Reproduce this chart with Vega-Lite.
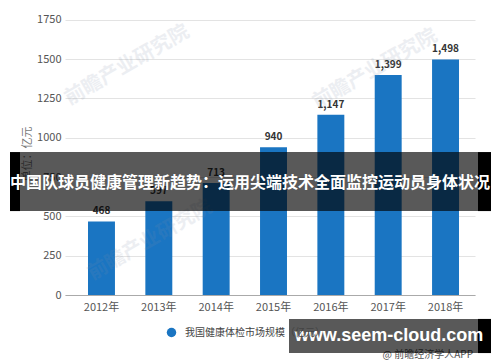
{
  "$schema": "https://vega.github.io/schema/vega-lite/v6.json",
  "width": 410,
  "height": 283,
  "autosize": {"type": "none"},
  "padding": {"left": 65, "top": 12, "right": 25, "bottom": 67},
  "background": "white",
  "config": {"view": {"stroke": null}, "font": "Noto Sans CJK SC"},
  "layer": [
    {
      "data": {"values": [
        {"year": "2012年", "value": 468, "series": "我国健康体检市场规模（亿元）"},
        {"year": "2013年", "value": 597, "series": "我国健康体检市场规模（亿元）"},
        {"year": "2014年", "value": 713, "series": "我国健康体检市场规模（亿元）"},
        {"year": "2015年", "value": 940, "series": "我国健康体检市场规模（亿元）"},
        {"year": "2016年", "value": 1147, "series": "我国健康体检市场规模（亿元）"},
        {"year": "2017年", "value": 1399, "series": "我国健康体检市场规模（亿元）"},
        {"year": "2018年", "value": 1498, "series": "我国健康体检市场规模（亿元）"}
      ]},
      "layer": [
        {
          "mark": {"type": "bar"},
          "encoding": {
            "x": {"field": "year", "type": "nominal", "sort": null,
              "scale": {"paddingInner": 0.53, "paddingOuter": 0.34, "align": 0.59},
              "axis": {"title": null, "labelAngle": 0, "labelFontSize": 11, "labelColor": "#555", "ticks": false, "domainColor": "#aaa", "labelPadding": 6}},
            "y": {"field": "value", "type": "quantitative", "scale": {"domain": [0, 1750]},
              "axis": {"values": [0, 250, 500, 750, 1000, 1250, 1500, 1750], "format": "d", "title": "单位：亿元", "titleFontSize": 11, "titleFontWeight": "normal", "titleColor": "#777", "labelFontSize": 11, "labelColor": "#555", "domain": false, "ticks": false, "gridColor": "#e3e3e3", "labelPadding": 4, "titlePadding": 4}},
            "color": {"field": "series", "type": "nominal", "scale": {"range": ["#1a75c2"]},
              "legend": {"title": null, "orient": "none", "legendX": 101, "legendY": 315, "symbolType": "circle", "symbolSize": 90, "labelFontSize": 10, "labelColor": "#444", "labelOffset": 8}}
          }
        },
        {
          "mark": {"type": "text", "dy": -10, "fontSize": 10, "fontWeight": "bold", "color": "#333"},
          "encoding": {
            "x": {"field": "year", "type": "nominal", "sort": null},
            "y": {"field": "value", "type": "quantitative"},
            "text": {"field": "value", "type": "quantitative", "format": ","}
          }
        }
      ]
    },
    {
      "data": {"values": [{}]},
      "mark": {"type": "text", "text": "前瞻产业研究院", "fontSize": 20, "fontWeight": "bold", "angle": -30, "fill": "#8090a8", "opacity": 0.14},
      "encoding": {
        "x": {"datum": 62, "type": "quantitative", "scale": {"domain": [0, 410]}, "axis": null},
        "y": {"datum": 1422, "type": "quantitative", "scale": {"domain": [0, 1750]}, "axis": null}
      }
    },
    {
      "data": {"values": [{}]},
      "mark": {"type": "text", "text": "前瞻产业研究院", "fontSize": 20, "fontWeight": "bold", "angle": -30, "fill": "#8090a8", "opacity": 0.14},
      "encoding": {
        "x": {"datum": 310, "type": "quantitative", "scale": {"domain": [0, 410]}, "axis": null},
        "y": {"datum": 1397, "type": "quantitative", "scale": {"domain": [0, 1750]}, "axis": null}
      }
    },
    {
      "data": {"values": [{}]},
      "mark": {"type": "text", "text": "前瞻产业研究院", "fontSize": 20, "fontWeight": "bold", "angle": -30, "fill": "#8090a8", "opacity": 0.14},
      "encoding": {
        "x": {"datum": 85, "type": "quantitative", "scale": {"domain": [0, 410]}, "axis": null},
        "y": {"datum": 340, "type": "quantitative", "scale": {"domain": [0, 1750]}, "axis": null}
      }
    },
    {
      "data": {"values": [{}]},
      "mark": {"type": "text", "text": "@ 前瞻经济学人APP", "fontSize": 10, "align": "right", "fill": "#555"},
      "encoding": {
        "x": {"datum": 408, "type": "quantitative", "scale": {"domain": [0, 410]}, "axis": null},
        "y": {"datum": -371, "type": "quantitative", "scale": {"domain": [0, 1750]}, "axis": null}
      }
    },
    {
      "data": {"values": [{}]},
      "mark": {"type": "rect", "fill": "#000", "opacity": 0.65},
      "encoding": {
        "x": {"datum": -45, "type": "quantitative", "scale": {"domain": [0, 410]}, "axis": null},
        "x2": {"datum": 413},
        "y": {"datum": 884, "type": "quantitative", "scale": {"domain": [0, 1750]}, "axis": null},
        "y2": {"datum": 519}
      }
    },
    {
      "data": {"values": [{}]},
      "mark": {"type": "rect", "fill": "#000"},
      "encoding": {
        "x": {"datum": -55, "type": "quantitative", "scale": {"domain": [0, 410]}, "axis": null},
        "x2": {"datum": -45},
        "y": {"datum": 884, "type": "quantitative", "scale": {"domain": [0, 1750]}, "axis": null},
        "y2": {"datum": 519}
      }
    },
    {
      "data": {"values": [{}]},
      "mark": {"type": "rect", "fill": "#000"},
      "encoding": {
        "x": {"datum": 413, "type": "quantitative", "scale": {"domain": [0, 410]}, "axis": null},
        "x2": {"datum": 426},
        "y": {"datum": 884, "type": "quantitative", "scale": {"domain": [0, 1750]}, "axis": null},
        "y2": {"datum": 519}
      }
    },
    {
      "data": {"values": [{}]},
      "mark": {"type": "text", "text": "中国队球员健康管理新趋势：运用尖端技术全面监控运动员身体状况", "fontSize": 16, "fontWeight": "bold", "fill": "#fff"},
      "encoding": {
        "x": {"datum": 185, "type": "quantitative", "scale": {"domain": [0, 410]}, "axis": null},
        "y": {"datum": 690, "type": "quantitative", "scale": {"domain": [0, 1750]}, "axis": null}
      }
    },
    {
      "data": {"values": [{}]},
      "mark": {"type": "rect", "fill": "#000", "opacity": 0.65},
      "encoding": {
        "x": {"datum": 224, "type": "quantitative", "scale": {"domain": [0, 410]}, "axis": null},
        "x2": {"datum": 413},
        "y": {"datum": -148, "type": "quantitative", "scale": {"domain": [0, 1750]}, "axis": null},
        "y2": {"datum": -359}
      }
    },
    {
      "data": {"values": [{}]},
      "mark": {"type": "rect", "fill": "#000"},
      "encoding": {
        "x": {"datum": 413, "type": "quantitative", "scale": {"domain": [0, 410]}, "axis": null},
        "x2": {"datum": 426},
        "y": {"datum": -148, "type": "quantitative", "scale": {"domain": [0, 1750]}, "axis": null},
        "y2": {"datum": -359}
      }
    },
    {
      "data": {"values": [{}]},
      "mark": {"type": "text", "text": "www.seem-cloud.com", "font": "Liberation Sans", "fontSize": 18, "fontWeight": "bold", "fill": "#fff"},
      "encoding": {
        "x": {"datum": 324, "type": "quantitative", "scale": {"domain": [0, 410]}, "axis": null},
        "y": {"datum": -253, "type": "quantitative", "scale": {"domain": [0, 1750]}, "axis": null}
      }
    }
  ],
  "resolve": {"scale": {"x": "independent", "y": "independent", "color": "independent"}}
}
